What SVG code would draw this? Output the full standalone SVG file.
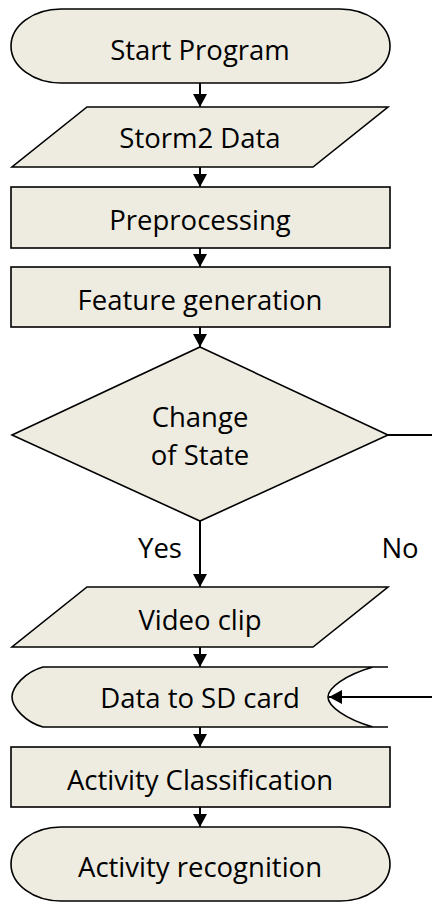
<svg xmlns="http://www.w3.org/2000/svg" width="432" height="902" viewBox="0 0 432 902">
<defs>
<style>
.n{fill:#EEECE1;stroke:#000;stroke-width:1.6}
.t{font-family:"Open Sans","Liberation Sans",sans-serif;font-size:27.5px;fill:#000;text-anchor:middle}
.c{fill:none;stroke:#000;stroke-width:2}
</style>
<marker id="ah" markerUnits="userSpaceOnUse" markerWidth="14" markerHeight="14" viewBox="0 0 14 14" refX="13" refY="7" orient="auto">
<path d="M0,0 L13,7 L0,14 Z" fill="#000"/>
</marker>
</defs>
<rect width="432" height="902" fill="#fff"/>
<g id="connectors">
<line class="c" x1="200" y1="83" x2="200" y2="107" marker-end="url(#ah)"/>
<line class="c" x1="200" y1="167" x2="200" y2="187" marker-end="url(#ah)"/>
<line class="c" x1="200" y1="248" x2="200" y2="267" marker-end="url(#ah)"/>
<line class="c" x1="200" y1="327" x2="200" y2="347" marker-end="url(#ah)"/>
<line class="c" x1="200" y1="521" x2="200" y2="587" marker-end="url(#ah)"/>
<line class="c" x1="388" y1="435" x2="432" y2="435"/>
<line class="c" x1="200" y1="647" x2="200" y2="667" marker-end="url(#ah)"/>
<line class="c" x1="432" y1="697" x2="329" y2="697" marker-end="url(#ah)"/>
<line class="c" x1="200" y1="727" x2="200" y2="747" marker-end="url(#ah)"/>
<line class="c" x1="200" y1="807" x2="200" y2="827" marker-end="url(#ah)"/>
<text class="t" x="160" y="558">Yes</text>
<text class="t" x="400" y="558">No</text>
</g>
<g id="start">
<rect class="n" x="11" y="9" width="379" height="74" rx="50" ry="37"/>
<text class="t" x="200" y="60">Start Program</text>
</g>
<g id="storm2">
<path class="n" d="M87,107 L388,107 L313,167 L12,167 Z"/>
<text class="t" x="200" y="148">Storm2 Data</text>
</g>
<g id="preprocessing">
<rect class="n" x="11" y="187" width="379" height="61"/>
<text class="t" x="200" y="230">Preprocessing</text>
</g>
<g id="feature">
<rect class="n" x="11" y="267" width="379" height="60"/>
<text class="t" x="200" y="310">Feature generation</text>
</g>
<g id="decision">
<path class="n" d="M200,347 L388,435 L200,521 L12,435 Z"/>
<text class="t" x="200" y="427">Change</text>
<text class="t" x="200" y="465">of State</text>
</g>
<g id="video">
<path class="n" d="M87,587 L388,587 L313,647 L12,647 Z"/>
<text class="t" x="200" y="630">Video clip</text>
</g>
<g id="sdcard">
<path d="M43,667 L373,667 C345,675 328,688 328,697 C328,706 345,719 373,727 L43,727 C25,722 12,707 12,697 C12,687 25,672 43,667 Z" fill="#EEECE1"/>
<path d="M388,667 L43,667 C25,672 12,687 12,697 C12,707 25,722 43,727 L388,727 M373,667 C345,675 328,688 328,697 C328,706 345,719 373,727" fill="none" stroke="#000" stroke-width="1.6"/>
<text class="t" x="200" y="708">Data to SD card</text>
</g>
<g id="classification">
<rect class="n" x="11" y="747" width="379" height="60"/>
<text class="t" x="200" y="790">Activity Classification</text>
</g>
<g id="recognition">
<rect class="n" x="11" y="827" width="379" height="74" rx="50" ry="37"/>
<text class="t" x="200" y="877">Activity recognition</text>
</g>
</svg>
